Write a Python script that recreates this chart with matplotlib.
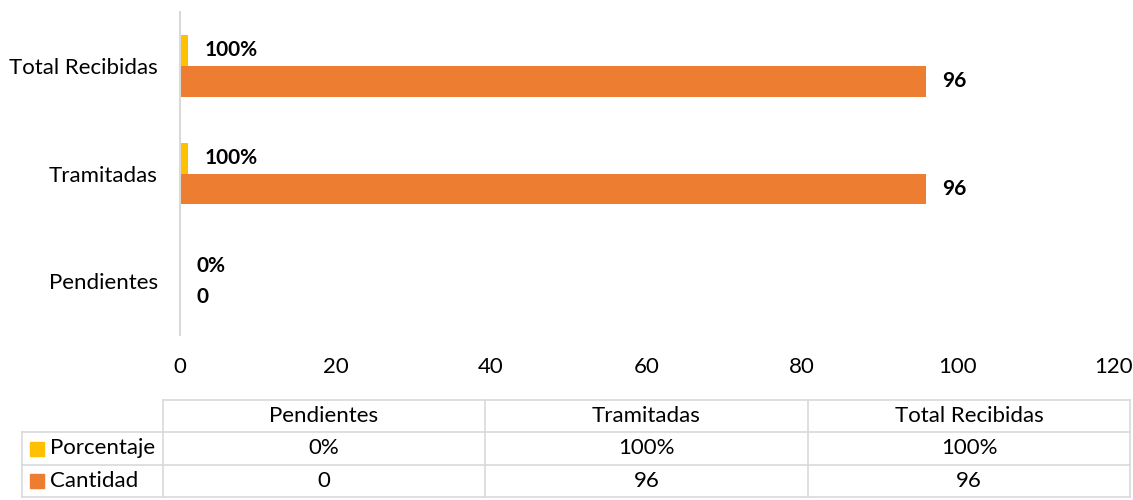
import matplotlib.pyplot as plt
import matplotlib.patches as mpatches

categorias = ['Pendientes', 'Tramitadas', 'Total Recibidas']
cantidad = [0, 96, 96]
porcentaje = [0, 1, 1]   # 0% / 100% como fraccion
etiquetas_pct = ['0%', '100%', '100%']

amarillo = '#FFC000'
naranja = '#ED7D31'
gris = '#D9D9D9'

plt.rcParams['font.family'] = ['Lato', 'DejaVu Sans']
fs = 16

fig = plt.figure(figsize=(11.33, 5), dpi=100)
ax = fig.add_axes([0.1589, 0.33, 0.8235, 0.646])

y = list(range(len(categorias)))
alto = 0.285
ax.barh([v + alto / 2 for v in y], porcentaje, height=alto, color=amarillo)
ax.barh([v - alto / 2 for v in y], cantidad, height=alto, color=naranja)

# etiquetas de datos
for i in y:
    ax.annotate(etiquetas_pct[i], (porcentaje[i], i + alto / 2), xytext=(12, 0),
                textcoords='offset points', va='center', ha='left',
                fontsize=15, fontweight='bold')
    ax.annotate(str(cantidad[i]), (cantidad[i], i - alto / 2), xytext=(11.5, 0),
                textcoords='offset points', va='center', ha='left',
                fontsize=15, fontweight='bold')

ax.set_xlim(0, 120)
ax.set_xticks(range(0, 121, 20))
ax.set_ylim(-0.5, 2.5)
ax.set_yticks(y)
ax.set_yticklabels(categorias)
ax.tick_params(length=0, labelsize=fs)
ax.tick_params(axis='x', pad=16)
ax.tick_params(axis='y', pad=16)
for s in ['top', 'right', 'bottom']:
    ax.spines[s].set_visible(False)
ax.spines['left'].set_color(gris)
ax.spines['left'].set_linewidth(1.5)

# tabla de datos debajo del grafico
tab = fig.add_axes([0, 0, 1, 1])
tab.set_xlim(0, 1133)
tab.set_ylim(500, 0)
tab.axis('off')

cols = [22, 163, 485, 808, 1130]
filas = [400, 432, 465, 497]
lw = 1.2
# lineas horizontales
tab.plot([cols[1], cols[-1]], [filas[0], filas[0]], color=gris, lw=lw)
for yy in filas[1:]:
    tab.plot([cols[0], cols[-1]], [yy, yy], color=gris, lw=lw)
# lineas verticales
tab.plot([cols[0], cols[0]], [filas[1], filas[-1]], color=gris, lw=lw)
for xx in cols[1:]:
    tab.plot([xx, xx], [filas[0], filas[-1]], color=gris, lw=lw)

for j, c in enumerate(categorias):
    xc = (cols[j + 1] + cols[j + 2]) / 2
    tab.text(xc, (filas[0] + filas[1]) / 2, c, ha='center', va='center', fontsize=fs)
    tab.text(xc, (filas[1] + filas[2]) / 2, etiquetas_pct[j], ha='center', va='center', fontsize=fs)
    tab.text(xc, (filas[2] + filas[3]) / 2, str(cantidad[j]), ha='center', va='center', fontsize=fs)

for k, (nombre, color) in enumerate([('Porcentaje', amarillo), ('Cantidad', naranja)]):
    ym = (filas[k + 1] + filas[k + 2]) / 2
    tab.add_patch(mpatches.Rectangle((30, ym - 7), 14, 14, color=color))
    tab.text(50, ym, nombre, ha='left', va='center', fontsize=fs)

fig.savefig('out.png', dpi=100)
